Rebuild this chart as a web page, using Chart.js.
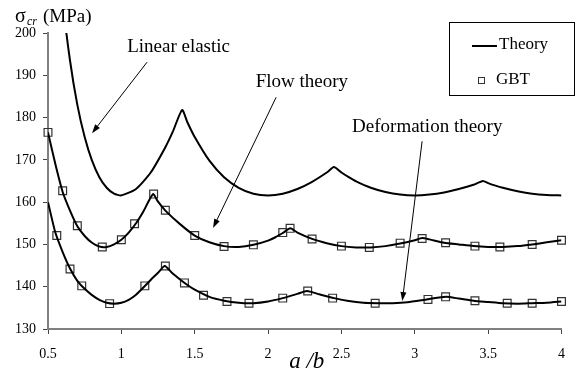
<!DOCTYPE html>
<html>
<head>
<meta charset="utf-8">
<script src="https://cdn.jsdelivr.net/npm/chart.js@4"></script>
<style>
  body { margin: 0; background: #fff; }
</style>
</head>
<body>
<canvas id="chart" width="577" height="380"></canvas>
<script>
// DATA
const xTicks = [0.5, 1, 1.5, 2, 2.5, 3, 3.5, 4];
const yTicks = [130, 140, 150, 160, 170, 180, 190, 200];

// linear elastic - theory only
const elasticX = [0.5, 0.55, 0.6, 0.65, 0.7, 0.75, 0.8, 0.85, 0.9, 0.95, 1, 1.1, 1.2, 1.3, 1.35, 1.414, 1.45, 1.5, 1.6, 1.7, 1.8, 1.9, 2, 2.1, 2.2, 2.3, 2.4, 2.449, 2.5, 2.55, 2.6, 2.7, 2.8, 2.9, 3, 3.1, 3.2, 3.3, 3.4, 3.464, 3.5, 3.55, 3.6, 3.7, 3.8, 3.9, 4];
const elasticY = [252.5, 226.6, 207.6, 193.5, 183.0, 175.4, 169.8, 165.9, 163.4, 162.0, 161.6, 163.1, 167.0, 173.0, 176.6, 181.8, 178.9, 175.4, 169.8, 165.9, 163.4, 162.0, 161.6, 162.0, 163.1, 164.8, 167.0, 168.3, 167.0, 165.9, 164.9, 163.4, 162.4, 161.8, 161.6, 161.8, 162.3, 163.1, 164.1, 165.0, 164.5, 163.9, 163.4, 162.6, 162.0, 161.7, 161.6];

// flow theory
const flowX = [0.5, 0.55, 0.6, 0.65, 0.7, 0.75, 0.8, 0.85, 0.9, 0.95, 1, 1.05, 1.1, 1.15, 1.216, 1.25, 1.3, 1.4, 1.5, 1.6, 1.7, 1.8, 1.9, 2, 2.05, 2.1, 2.151, 2.2, 2.3, 2.4, 2.5, 2.6, 2.7, 2.8, 2.9, 3, 3.05, 3.1, 3.2, 3.3, 3.4, 3.5, 3.6, 3.7, 3.8, 3.9, 4];
const flowY = [176.5, 169.0, 162.4, 158.0, 154.3, 152.0, 150.4, 149.5, 149.4, 150.0, 151.1, 152.8, 155.0, 157.8, 161.9, 160.1, 158.0, 154.8, 152.1, 150.5, 149.6, 149.4, 149.9, 150.9, 151.7, 152.7, 153.8, 152.8, 151.3, 150.3, 149.6, 149.3, 149.3, 149.6, 150.2, 151.0, 151.5, 151.2, 150.4, 150.0, 149.6, 149.4, 149.4, 149.6, 150.0, 150.5, 151.0];
const flowGbtX = [0.5, 0.6, 0.7, 0.87, 1.0, 1.09, 1.22, 1.3, 1.5, 1.7, 1.9, 2.1, 2.15, 2.3, 2.5, 2.69, 2.9, 3.05, 3.21, 3.41, 3.58, 3.8, 4.0];
const flowGbtY = [176.5, 162.7, 154.4, 149.4, 151.1, 154.9, 161.9, 158.1, 152.1, 149.5, 149.9, 152.8, 153.8, 151.3, 149.6, 149.3, 150.3, 151.4, 150.4, 149.6, 149.4, 150.0, 151.0];

// deformation theory
const defX = [0.5, 0.55, 0.6, 0.65, 0.7, 0.75, 0.8, 0.85, 0.9, 0.95, 1, 1.05, 1.1, 1.15, 1.2, 1.25, 1.296, 1.35, 1.4, 1.45, 1.5, 1.6, 1.7, 1.8, 1.9, 2, 2.1, 2.2, 2.265, 2.35, 2.45, 2.55, 2.65, 2.75, 2.85, 2.95, 3.05, 3.1, 3.213, 3.3, 3.4, 3.5, 3.6, 3.7, 3.8, 3.9, 4];
const defY = [160.0, 152.8, 148.2, 144.3, 141.4, 139.5, 138.0, 136.9, 136.2, 136.0, 136.2, 136.9, 138.1, 139.8, 141.6, 143.3, 144.9, 143.1, 141.7, 140.4, 139.3, 137.6, 136.7, 136.2, 136.1, 136.5, 137.3, 138.3, 139.0, 138.2, 137.3, 136.6, 136.2, 136.1, 136.1, 136.3, 136.8, 137.1, 137.6, 137.2, 136.7, 136.4, 136.1, 136.0, 136.1, 136.2, 136.5];
const defGbtX = [0.56, 0.65, 0.73, 0.92, 1.16, 1.3, 1.43, 1.56, 1.72, 1.87, 2.1, 2.27, 2.44, 2.73, 3.09, 3.21, 3.41, 3.63, 3.8, 4.0];
const defGbtY = [152.1, 144.2, 140.2, 136.0, 140.2, 144.9, 140.9, 138.0, 136.5, 136.1, 137.3, 139.0, 137.3, 136.1, 137.0, 137.6, 136.7, 136.1, 136.1, 136.5];

// callout labels: text position and arrow (data units)
const callouts = [
  { text: 'Linear elastic', tx: 1.39, ty: 196.6, from: [1.175, 193.1], to: [0.80, 176.3] },
  { text: 'Flow theory', tx: 2.23, ty: 188.4, from: [2.055, 184.8], to: [1.625, 153.9] },
  { text: 'Deformation theory', tx: 3.085, ty: 177.8, from: [3.05, 174.4], to: [2.915, 136.6] }
];

const SERIF = '"Liberation Serif", "Times New Roman", serif';
const pts = (xs, ys) => xs.map((x, i) => ({ x: x, y: ys[i] }));

function theory(data) {
  return { label: 'Theory', data: data, borderColor: '#000', borderWidth: 2, pointRadius: 0, tension: 0.2, fill: false };
}
function gbt(data) {
  return { label: 'GBT', data: data, showLine: false, clip: false, pointStyle: 'rect', pointRadius: 5.5, pointBorderWidth: 1.2, pointBorderColor: '#333', pointBackgroundColor: 'rgba(0,0,0,0)' };
}

// ARROW HELPER
function arrow(ctx, x1, y1, x2, y2) {
  const a = Math.atan2(y2 - y1, x2 - x1);
  const len = 9, half = 3;
  ctx.beginPath();
  ctx.moveTo(x1, y1);
  ctx.lineTo(x2 - Math.cos(a) * len * 0.8, y2 - Math.sin(a) * len * 0.8);
  ctx.lineWidth = 1;
  ctx.stroke();
  ctx.beginPath();
  ctx.moveTo(x2, y2);
  ctx.lineTo(x2 - Math.cos(a) * len - Math.sin(a) * half, y2 - Math.sin(a) * len + Math.cos(a) * half);
  ctx.lineTo(x2 - Math.cos(a) * len + Math.sin(a) * half, y2 - Math.sin(a) * len - Math.cos(a) * half);
  ctx.closePath();
  ctx.fill();
}

// OVERLAY: callouts, legend box, axis titles
const overlay = {
  id: 'overlay',
  afterDraw(chart) {
    const { ctx, chartArea } = chart;
    const sx = chart.scales.x, sy = chart.scales.y;
    ctx.save();
    ctx.fillStyle = '#000';
    ctx.strokeStyle = '#000';

    // callouts
    ctx.font = '19px ' + SERIF;
    ctx.textAlign = 'center';
    ctx.textBaseline = 'middle';
    callouts.forEach(c => {
      ctx.fillText(c.text, sx.getPixelForValue(c.tx), sy.getPixelForValue(c.ty));
      arrow(ctx, sx.getPixelForValue(c.from[0]), sy.getPixelForValue(c.from[1]),
        sx.getPixelForValue(c.to[0]), sy.getPixelForValue(c.to[1]));
    });

    // legend
    const lx = chart.width - 128, ly = 22;
    ctx.lineWidth = 1;
    ctx.strokeRect(lx + 0.5, ly + 0.5, 125, 73);
    ctx.beginPath();
    ctx.lineWidth = 2;
    ctx.moveTo(lx + 23, ly + 24);
    ctx.lineTo(lx + 48, ly + 24);
    ctx.stroke();
    ctx.lineWidth = 1;
    ctx.strokeStyle = '#333';
    ctx.strokeRect(lx + 29.5, ly + 55.5, 6, 6);
    ctx.textAlign = 'left';
    ctx.font = '17px ' + SERIF;
    ctx.fillText('Theory', lx + 50, ly + 23);
    ctx.fillText('GBT', lx + 47, ly + 58);

    // y title: sigma_cr (MPa)
    ctx.textBaseline = 'alphabetic';
    ctx.font = '20px ' + SERIF;
    ctx.fillText('\u03c3', 15, 22);
    ctx.font = 'italic 12px ' + SERIF;
    ctx.fillText('cr', 27, 25);
    ctx.font = '19px ' + SERIF;
    ctx.fillText('(MPa)', 43, 22);

    // x title
    ctx.textAlign = 'center';
    ctx.font = 'italic 23px ' + SERIF;
    ctx.fillText('a /b', (chartArea.left + chartArea.right) / 2 + 2, 368);
    ctx.restore();
  }
};

new Chart(document.getElementById('chart').getContext('2d'), {
  type: 'line',
  data: {
    datasets: [
      theory(pts(elasticX, elasticY)),
      theory(pts(flowX, flowY)),
      gbt(pts(flowGbtX, flowGbtY)),
      theory(pts(defX, defY)),
      gbt(pts(defGbtX, defGbtY))
    ]
  },
  options: {
    responsive: false,
    animation: false,
    devicePixelRatio: 1,
    layout: { padding: { top: 33, right: 15, left: 0, bottom: 0 } },
    plugins: { legend: { display: false }, tooltip: { enabled: false } },
    scales: {
      x: {
        type: 'linear', min: xTicks[0], max: xTicks[xTicks.length - 1],
        afterFit: s => { s.height = 51; },
        afterBuildTicks: s => { s.ticks = xTicks.map(v => ({ value: v })); },
        ticks: { color: '#000', padding: 12, font: { family: SERIF, size: 14 }, maxRotation: 0, callback: v => String(v) },
        grid: { drawOnChartArea: false, tickLength: 5, color: '#444', lineWidth: 1 },
        border: { color: '#808080', width: 2 }
      },
      y: {
        type: 'linear', min: yTicks[0], max: yTicks[yTicks.length - 1],
        afterFit: s => { s.width = 48; },
        afterBuildTicks: s => { s.ticks = yTicks.map(v => ({ value: v })); },
        ticks: { color: '#000', padding: 7, font: { family: SERIF, size: 14 } },
        grid: { drawOnChartArea: false, tickLength: 5, color: '#444', lineWidth: 1 },
        border: { color: '#808080', width: 2 }
      }
    }
  },
  plugins: [overlay]
});
</script>
</body>
</html>
